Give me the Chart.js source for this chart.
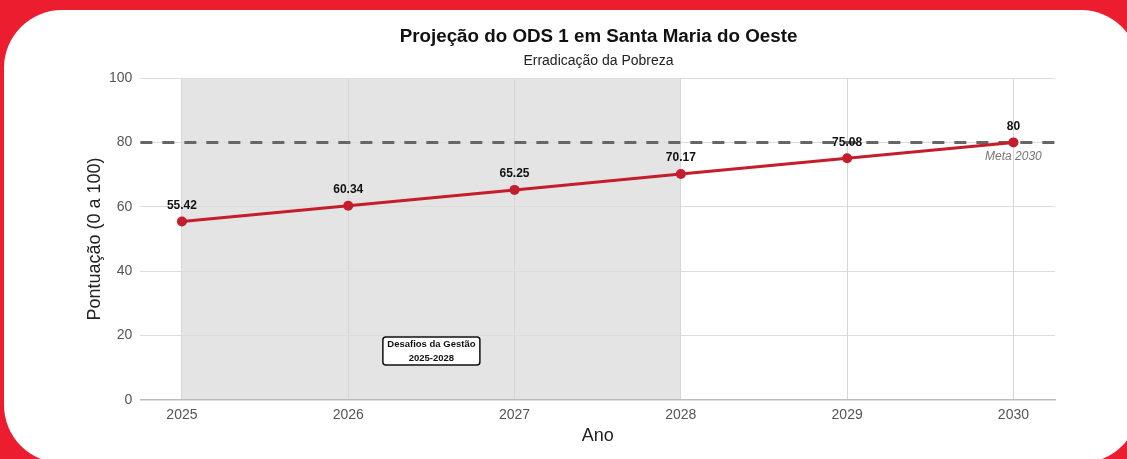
<!DOCTYPE html>
<html lang="pt-BR">
<head>
<meta charset="utf-8">
<title>Projeção do ODS 1 em Santa Maria do Oeste</title>
<script src="https://cdn.jsdelivr.net/npm/chart.js@4/dist/chart.umd.min.js"></script>
<style>
    html, body {
        margin: 0;
        padding: 0;
        width: 1127px;
        height: 459px;
        overflow: hidden;
        background: #ec1d2f;
        font-family: "Liberation Sans", Arial, sans-serif;
    }
    .card {
        position: absolute;
        left: 4px;
        top: 10px;
        width: 1135px;
        height: 453px;
        background: #fff;
        border-radius: 58px;
    }
    .chart-box {
        position: absolute;
        left: 70px;
        top: 0;
        width: 1057px;
        height: 459px;
    }
</style>
</head>
<body>
<div class="card"></div>
<div class="chart-box"><canvas id="odsChart"></canvas></div>

<script>
// Series
const anos = [2025, 2026, 2027, 2028, 2029, 2030];
const pontuacao = [55.42, 60.34, 65.25, 70.17, 75.08, 80];

// Headings
const TITULO = 'Projeção do ODS 1 em Santa Maria do Oeste';
const SUBTITULO = 'Erradicação da Pobreza';

// Target line
const META = 80;
const META_LABEL = 'Meta 2030';

// Shaded management period
const GESTAO_INICIO = 2025;
const GESTAO_FIM = 2028;
const GESTAO_TEXTO = ['Desafios da Gestão', '2025-2028'];
const GESTAO_POS = { x: 2026.5, y: 15.2 };

const FONT = '"Liberation Sans", Arial, sans-serif';
const RED = '#c41d2b';

const ctx = document.getElementById('odsChart').getContext('2d');

// Title and subtitle centred on the whole canvas (the built-in title
// would centre on the padded area instead)
const headingPlugin = {
    id: 'heading',
    afterDraw: (chart) => {
        const { ctx, width } = chart;
        ctx.save();
        ctx.textAlign = 'center';
        ctx.textBaseline = 'middle';
        ctx.fillStyle = '#111';
        ctx.font = 'bold 18.8px ' + FONT;
        ctx.fillText(TITULO, width / 2, 37);
        ctx.fillStyle = '#222';
        ctx.font = '14px ' + FONT;
        ctx.fillText(SUBTITULO, width / 2, 61);
        ctx.restore();
    }
};

// Gray band behind the grid for the 2025-2028 period
const shadePlugin = {
    id: 'shade',
    beforeDraw: (chart) => {
        const { ctx, chartArea, scales: { x } } = chart;
        const x0 = x.getPixelForValue(GESTAO_INICIO);
        const x1 = x.getPixelForValue(GESTAO_FIM);
        ctx.save();
        ctx.fillStyle = '#e4e4e4';
        ctx.fillRect(x0, chartArea.top, x1 - x0, chartArea.bottom - chartArea.top);
        ctx.restore();
    }
};

// Dashed target line plus its caption
const metaPlugin = {
    id: 'meta',
    beforeDatasetsDraw: (chart) => {
        const { ctx, chartArea, scales: { x, y } } = chart;
        const yPos = y.getPixelForValue(META);
        ctx.save();
        ctx.strokeStyle = '#666';
        ctx.lineWidth = 3;
        ctx.setLineDash([12, 10]);
        ctx.beginPath();
        ctx.moveTo(chartArea.left, yPos);
        ctx.lineTo(chartArea.right, yPos);
        ctx.stroke();
        ctx.setLineDash([]);

        ctx.fillStyle = '#777';
        ctx.font = 'italic 12px ' + FONT;
        ctx.textAlign = 'center';
        ctx.textBaseline = 'middle';
        ctx.fillText(META_LABEL, x.getPixelForValue(anos[anos.length - 1]), yPos + 14);
        ctx.restore();
    }
};

// Value labels above the points and the period box
const labelsPlugin = {
    id: 'labels',
    afterDatasetsDraw: (chart) => {
        const { ctx, scales: { x, y } } = chart;
        const meta = chart.getDatasetMeta(0);
        ctx.save();
        ctx.fillStyle = '#111';
        ctx.font = 'bold 12px ' + FONT;
        ctx.textAlign = 'center';
        ctx.textBaseline = 'middle';
        meta.data.forEach((pt, i) => {
            ctx.fillText(String(pontuacao[i]), pt.x, pt.y - 16);
        });

        // Period box
        const cx = x.getPixelForValue(GESTAO_POS.x);
        const cy = y.getPixelForValue(GESTAO_POS.y);
        const bw = 97;
        const bh = 28;
        const bx = cx - bw / 2;
        const by = cy - bh / 2;
        ctx.beginPath();
        ctx.roundRect(bx, by, bw, bh, 3);
        ctx.fillStyle = '#fff';
        ctx.fill();
        ctx.lineWidth = 1.5;
        ctx.strokeStyle = '#111';
        ctx.stroke();

        ctx.fillStyle = '#111';
        ctx.font = 'bold 9.5px ' + FONT;
        ctx.fillText(GESTAO_TEXTO[0], cx, cy - 7);
        ctx.fillText(GESTAO_TEXTO[1], cx, cy + 7);
        ctx.restore();
    }
};

new Chart(ctx, {
    type: 'line',
    data: {
        datasets: [{
            label: 'Pontuação',
            data: anos.map((a, i) => ({ x: a, y: pontuacao[i] })),
            borderColor: RED,
            backgroundColor: RED,
            borderWidth: 3,
            pointRadius: 5,
            pointHoverRadius: 5,
            pointBackgroundColor: RED,
            pointBorderWidth: 0,
            tension: 0,
            fill: false
        }]
    },
    options: {
        responsive: true,
        maintainAspectRatio: false,
        animation: false,
        layout: { padding: { left: 9, right: 72, top: 78, bottom: 13 } },
        plugins: {
            legend: { display: false },
            tooltip: { enabled: false }
        },
        scales: {
            x: {
                type: 'linear',
                min: 2024.75,
                max: 2030.25,
                title: {
                    display: true,
                    text: 'Ano',
                    color: '#222',
                    font: { family: FONT, size: 18, lineHeight: 0.667 },
                    padding: { top: 0, bottom: 4 }
                },
                ticks: {
                    stepSize: 1,
                    includeBounds: false,
                    color: '#555',
                    padding: 8,
                    font: { family: FONT, size: 14, lineHeight: 1 },
                    callback: (v) => Number.isInteger(v) ? String(v) : ''
                },
                grid: { color: '#d6d6d6', drawTicks: false },
                border: { display: true, color: '#bbb', width: 1.5 }
            },
            y: {
                min: 0,
                max: 100,
                title: {
                    display: true,
                    text: 'Pontuação (0 a 100)',
                    color: '#222',
                    font: { family: FONT, size: 18, lineHeight: 0.667 },
                    padding: { top: 10, bottom: 0 }
                },
                ticks: {
                    stepSize: 20,
                    color: '#555',
                    padding: 8,
                    font: { family: FONT, size: 14 }
                },
                grid: { color: '#dcdcdc', drawTicks: false },
                border: { display: false }
            }
        }
    },
    plugins: [shadePlugin, metaPlugin, labelsPlugin, headingPlugin]
});
</script>
</body>
</html>
